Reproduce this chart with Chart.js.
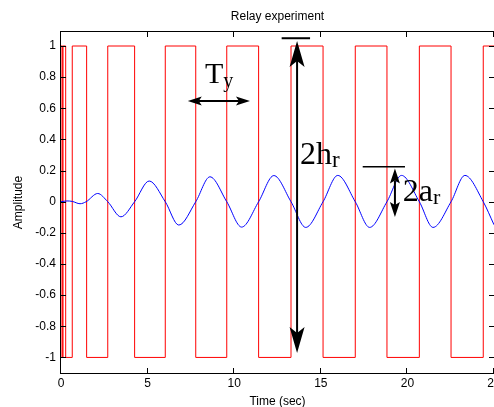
<!DOCTYPE html>
<html><head>
<meta charset="utf-8">
<title>Relay experiment</title>
<script src="https://cdn.jsdelivr.net/npm/chart.js"></script>
<style>
  html, body { margin:0; padding:0; background:#fff }
  canvas { display:block }
</style>
</head><body>
<canvas id="chart" width="494" height="407"></canvas>
<script>
// relay output: switching instants (sec) and the level it switches to
const relayTimes  = [0, 0, 0.10, 0.11, 0.27, 0.65, 1.48, 2.70, 4.25, 6.02, 7.78, 9.57, 11.41, 13.28, 15.13, 16.99, 18.82, 20.69, 22.52, 24.38, 25];
const relayLevels = [-1, 1, -1, 1, -1, 1, -1, 1, -1, 1, -1, 1, -1, 1, -1, 1, -1, 1, -1, 1, 1];

// process output: start, then peaks / troughs and zero crossings
const outputTimes  = [0, 0.35, 0.65, 1.10, 1.45, 2.12, 2.70, 3.46, 4.25, 5.09, 6.02, 6.80, 7.78, 8.60, 9.57, 10.43, 11.41, 12.29, 13.28, 14.13, 15.13, 15.98, 16.99, 17.82, 18.82, 19.66, 20.69, 21.48, 22.52, 23.32, 24.38, 25];
const outputValues = [0, 0.005, 0.002, -0.013, 0, 0.053, 0, -0.097, 0, 0.133, 0, -0.150, 0, 0.160, 0, -0.163, 0, 0.168, 0, -0.165, 0, 0.169, 0, -0.165, 0, 0.169, 0, -0.165, 0, 0.169, 0, -0.148];

const xTicks = [0, 5, 10, 15, 20, 25];
const yTicks = [-1, -0.8, -0.6, -0.4, -0.2, 0, 0.2, 0.4, 0.6, 0.8, 1];

const sans = "'Liberation Sans', Arial, sans-serif";
const serif = "'Liberation Serif', 'Times New Roman', serif";
const font = { family: sans, size: 12, weight: 'normal' };

// annotation marks, in data units (sec, amplitude)
const notes = {
  period:  { x1: 7.32, x2: 10.91, y: 0.647, text: 'T', sub: 'y', tx: 8.31, ty: 0.762 },
  relay:   { x: 13.63, y1: -0.972, y2: 1.032, bar: [12.74, 14.38, 1.05], text: '2h', sub: 'r', tx: 13.80, ty: 0.242 },
  output:  { x: 19.28, y1: -0.098, y2: 0.213, bar: [17.42, 19.86, 0.225], text: '2a', sub: 'r', tx: 19.73, ty: 0.005 }
};

function arrowHead(ctx, tx, ty, dx, dy, len, half, notch) {
  const bx = tx - dx * len, by = ty - dy * len;
  const nx = -dy, ny = dx;
  ctx.beginPath();
  ctx.moveTo(tx, ty);
  ctx.lineTo(bx + nx * half, by + ny * half);
  ctx.lineTo(tx - dx * (len - notch), ty - dy * (len - notch));
  ctx.lineTo(bx - nx * half, by - ny * half);
  ctx.closePath();
  ctx.fill();
}

function doubleArrow(ctx, x1, y1, x2, y2, len, half, notch, width) {
  const L = Math.hypot(x2 - x1, y2 - y1), dx = (x2 - x1) / L, dy = (y2 - y1) / L;
  ctx.lineWidth = width;
  ctx.beginPath();
  ctx.moveTo(x1 + dx * (len - notch), y1 + dy * (len - notch));
  ctx.lineTo(x2 - dx * (len - notch), y2 - dy * (len - notch));
  ctx.stroke();
  arrowHead(ctx, x2, y2, dx, dy, len, half, notch);
  arrowHead(ctx, x1, y1, -dx, -dy, len, half, notch);
}

function subText(ctx, main, sub, x, y, size, subSize, drop) {
  ctx.font = size + 'px ' + serif;
  ctx.fillText(main, x, y);
  const w = ctx.measureText(main).width;
  ctx.font = subSize + 'px ' + serif;
  ctx.fillText(sub, x + w, y + drop);
}

// MATLAB-style box with inward ticks
const axesBox = {
  id: 'axesBox',
  afterDraw(chart) {
    const { ctx, chartArea: a, scales: { x, y } } = chart;
    ctx.save();
    ctx.strokeStyle = '#000';
    ctx.lineWidth = 1;
    ctx.strokeRect(a.left - 0.5, a.top - 0.5, a.right - a.left + 1, a.bottom - a.top + 1);
    ctx.beginPath();
    xTicks.forEach(v => {
      const px = Math.round(x.getPixelForValue(v)) - 0.5;
      ctx.moveTo(px, a.bottom); ctx.lineTo(px, a.bottom - 5);
      ctx.moveTo(px, a.top); ctx.lineTo(px, a.top + 5);
    });
    yTicks.forEach(v => {
      const py = Math.round(y.getPixelForValue(v)) + 0.5;
      ctx.moveTo(a.left, py); ctx.lineTo(a.left + 5, py);
      ctx.moveTo(a.right, py); ctx.lineTo(a.right - 5, py);
    });
    ctx.stroke();
    ctx.restore();
  }
};

const annotations = {
  id: 'annotations',
  afterDraw(chart) {
    const { ctx, scales: { x, y } } = chart;
    const X = v => x.getPixelForValue(v), Y = v => y.getPixelForValue(v);
    ctx.save();
    ctx.fillStyle = '#000';
    ctx.strokeStyle = '#000';
    ctx.textBaseline = 'alphabetic';

    const p = notes.period;
    doubleArrow(ctx, X(p.x1), Y(p.y), X(p.x2), Y(p.y), 14, 4.5, 3, 2);
    subText(ctx, p.text, p.sub, X(p.tx), Y(p.ty), 30, 20, 4);

    const r = notes.relay;
    ctx.lineWidth = 2;
    ctx.beginPath(); ctx.moveTo(X(r.bar[0]), Y(r.bar[2])); ctx.lineTo(X(r.bar[1]), Y(r.bar[2])); ctx.stroke();
    doubleArrow(ctx, X(r.x), Y(r.y2), X(r.x), Y(r.y1), 26, 7.5, 6, 2);
    subText(ctx, r.text, r.sub, X(r.tx), Y(r.ty), 32, 23, 3);

    const o = notes.output;
    ctx.lineWidth = 1.5;
    ctx.beginPath(); ctx.moveTo(X(o.bar[0]), Y(o.bar[2])); ctx.lineTo(X(o.bar[1]), Y(o.bar[2])); ctx.stroke();
    doubleArrow(ctx, X(o.x), Y(o.y2), X(o.x), Y(o.y1), 15, 5, 3, 2);
    subText(ctx, o.text, o.sub, X(o.tx), Y(o.ty), 32, 22, 3);
    ctx.restore();
  }
};

new Chart(document.getElementById('chart').getContext('2d'), {
  type: 'line',
  data: {
    datasets: [
      {
        label: 'Process output',
        data: outputTimes.map((t, i) => ({ x: t, y: outputValues[i] })),
        borderColor: '#0000ff', borderWidth: 1, pointRadius: 0,
        cubicInterpolationMode: 'monotone', fill: false
      },
      {
        label: 'Relay output',
        data: relayTimes.map((t, i) => ({ x: t, y: relayLevels[i] })),
        borderColor: '#ff0000', borderWidth: 1, pointRadius: 0,
        stepped: 'before', fill: false
      }
    ]
  },
  options: {
    responsive: false,
    animation: false,
    events: [],
    layout: { padding: { top: 0, left: 0, right: 0, bottom: 0 } },
    plugins: {
      legend: { display: false },
      tooltip: { enabled: false },
      title: {
        display: true, text: 'Relay experiment', color: '#000', font,
        fullSize: false, padding: { top: 9, bottom: 8.6 }
      }
    },
    scales: {
      x: {
        type: 'linear', min: 0, max: 25,
        grid: { display: false, drawTicks: false },
        border: { display: false },
        ticks: { font, color: '#000', padding: 3, maxRotation: 0, autoSkip: false },
        afterBuildTicks: s => { s.ticks = xTicks.map(v => ({ value: v })); },
        afterFit: s => { s.height = 34; s.paddingLeft = 0; s.paddingRight = 0; },
        title: { display: true, text: 'Time (sec)', font, color: '#000', padding: { top: 0, bottom: -2 } }
      },
      y: {
        type: 'linear', min: -1.1, max: 1.09,
        grid: { display: false, drawTicks: false },
        border: { display: false },
        ticks: {
          font, color: '#000', padding: 5,
          callback: v => String(+v.toFixed(1))
        },
        afterBuildTicks: s => { s.ticks = yTicks.map(v => ({ value: v })); },
        afterFit: s => { s.width = 61; s.paddingTop = 0; s.paddingBottom = 0; },
        title: { display: true, text: 'Amplitude', font, color: '#000', padding: { top: 11.5, bottom: 0 } }
      }
    }
  },
  plugins: [axesBox, annotations]
});
</script>
</body></html>
